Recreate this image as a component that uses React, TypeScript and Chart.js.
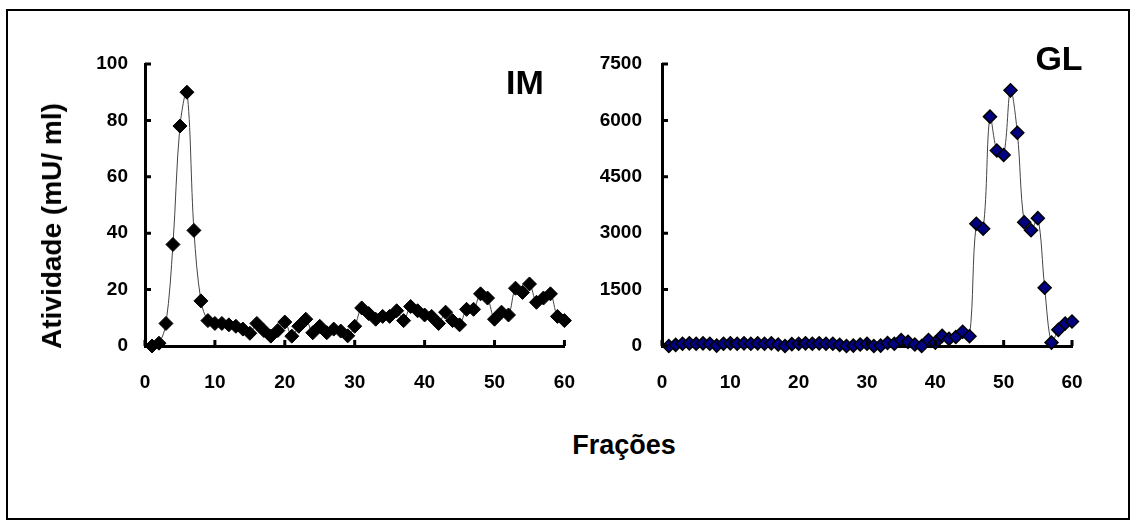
import React, { useEffect, useRef } from "react";
import { Chart, registerables } from "chart.js";

Chart.register(...registerables);

const fractions = [
  1, 2, 3, 4, 5, 6, 7, 8, 9, 10, 11, 12, 13, 14, 15, 16, 17, 18, 19, 20,
  21, 22, 23, 24, 25, 26, 27, 28, 29, 30, 31, 32, 33, 34, 35, 36, 37, 38, 39, 40,
  41, 42, 43, 44, 45, 46, 47, 48, 49, 50, 51, 52, 53, 54, 55, 56, 57, 58, 59, 60,
];

const imValues = [
  0, 1, 8, 36, 78, 90, 41, 16, 9, 8, 8, 7.5, 7, 6, 4.5, 8, 5.5, 3.5, 5.5, 8.5,
  3.5, 7, 9.5, 4.7, 7, 4.7, 6, 5.3, 3.6, 7, 13.5, 11.5, 9.5, 10.5, 10.5, 12.5, 9, 14, 12.5, 11,
  10.5, 8, 12, 9, 7.5, 13, 13, 18.5, 17, 9.5, 12, 11, 20.5, 19, 22, 15.5, 17, 18.5, 10.5, 9,
];

const glValues = [
  0, 30, 60, 70, 60, 70, 60, 10, 60, 70, 60, 70, 60, 70, 60, 70, 40, 0, 50, 60,
  70, 60, 70, 60, 60, 30, 0, 10, 40, 60, 0, 10, 80, 60, 160, 110, 40, 0, 160, 90,
  270, 190, 240, 380, 260, 3250, 3120, 6100, 5200, 5080, 6800, 5670, 3290, 3080, 3400, 1550, 90, 430, 600, 650,
];

const xTicks = [0, 10, 20, 30, 40, 50, 60];
const imTicks = [0, 20, 40, 60, 80, 100];
const glTicks = [0, 1500, 3000, 4500, 6000, 7500];

const FONT = "'Liberation Sans', Arial, sans-serif";

const innerTicks = {
  id: "innerTicks",
  afterDraw(chart: any) {
    const ctx = chart.ctx;
    const xs = chart.scales.x;
    const ys = chart.scales.y;
    ctx.save();
    ctx.strokeStyle = "#000";
    ctx.lineWidth = 3;
    ctx.beginPath();
    xs.ticks.forEach((t: any) => {
      const px = xs.getPixelForValue(t.value);
      ctx.moveTo(px, ys.bottom);
      ctx.lineTo(px, ys.bottom - 6);
    });
    ys.ticks.forEach((t: any) => {
      const py = ys.getPixelForValue(t.value);
      ctx.moveTo(xs.left, py);
      ctx.lineTo(xs.left + 6, py);
    });
    ctx.stroke();
    ctx.restore();
  },
};

function makeConfig(
  values: number[],
  ticks: number[],
  yMax: number,
  yWidth: number,
  rightPad: number,
  yPad: number,
  fill: string,
  radius: number,
  borderW: number
): any {
  return {
    type: "line",
    data: {
      datasets: [
        {
          data: fractions.map((f, i) => ({ x: f, y: values[i] })),
          borderColor: "#444",
          borderWidth: 1,
          tension: 0.35,
          pointStyle: "rectRot",
          pointRadius: radius,
          pointBackgroundColor: fill,
          pointBorderColor: "#000",
          pointBorderWidth: borderW,
          clip: false,
        },
      ],
    },
    options: {
      animation: false,
      responsive: false,
      maintainAspectRatio: false,
      layout: { padding: { left: 0, top: 64, right: rightPad, bottom: 0 } },
      plugins: { legend: { display: false }, tooltip: { enabled: false } },
      scales: {
        x: {
          type: "linear",
          min: 0,
          max: 60,
          afterBuildTicks: (s: any) => {
            s.ticks = xTicks.map((v) => ({ value: v }));
          },
          afterFit: (s: any) => {
            s.height = 74;
          },
          grid: { display: true, drawOnChartArea: false, drawTicks: false },
          border: { display: true, color: "#000", width: 3 },
          ticks: {
            padding: 25,
            color: "#000",
            maxRotation: 0,
            callback: (v: any) => String(v),
            font: { family: FONT, size: 19, weight: "bold" },
          },
        },
        y: {
          type: "linear",
          min: 0,
          max: yMax,
          afterBuildTicks: (s: any) => {
            s.ticks = ticks.map((v) => ({ value: v }));
          },
          afterFit: (s: any) => {
            s.width = yWidth;
          },
          grid: { display: true, drawOnChartArea: false, drawTicks: false },
          border: { display: true, color: "#000", width: 3 },
          ticks: {
            padding: yPad,
            color: "#000",
            callback: (v: any) => String(v),
            font: { family: FONT, size: 19, weight: "bold" },
          },
        },
      },
    },
    plugins: [innerTicks],
  };
}

export default function App() {
  const leftRef = useRef<HTMLCanvasElement>(null);
  const rightRef = useRef<HTMLCanvasElement>(null);

  useEffect(() => {
    document.body.style.margin = "0";
    const c1 = new Chart(
      leftRef.current as HTMLCanvasElement,
      makeConfig(imValues, imTicks, 100, 145, 33, 17, "#000", 7, 1)
    );
    const c2 = new Chart(
      rightRef.current as HTMLCanvasElement,
      makeConfig(glValues, glTicks, 7500, 142, 48, 20, "#000080", 6.5, 1.5)
    );
    return () => {
      c1.destroy();
      c2.destroy();
    };
  }, []);

  const text: React.CSSProperties = {
    position: "absolute",
    fontFamily: FONT,
    fontWeight: "bold",
    color: "#000",
    whiteSpace: "nowrap",
    lineHeight: 1,
  };

  return (
    <div style={{ position: "relative", width: 1136, height: 525, background: "#fff", overflow: "hidden" }}>
      <div
        style={{
          position: "absolute",
          left: 6,
          top: 9,
          width: 1124,
          height: 511,
          border: "2px solid #000",
          boxSizing: "border-box",
        }}
      />
      <canvas
        ref={leftRef}
        width={600}
        height={420}
        style={{ position: "absolute", left: 0, top: 0, width: 600, height: 420 }}
      />
      <canvas
        ref={rightRef}
        width={600}
        height={420}
        style={{ position: "absolute", left: 520, top: 0, width: 600, height: 420 }}
      />
      <div
        style={{
          ...text,
          fontSize: 28,
          left: 52,
          top: 226,
          transform: "translate(-50%, -50%) rotate(-90deg)",
        }}
      >
        Atividade (mU/ ml)
      </div>
      <div style={{ ...text, fontSize: 27, left: 624, top: 445, transform: "translate(-50%, -50%)" }}>
        Frações
      </div>
      <div style={{ ...text, fontSize: 34, left: 525, top: 82, transform: "translate(-50%, -50%)" }}>
        IM
      </div>
      <div style={{ ...text, fontSize: 34, left: 1059, top: 58, transform: "translate(-50%, -50%)" }}>
        GL
      </div>
    </div>
  );
}
